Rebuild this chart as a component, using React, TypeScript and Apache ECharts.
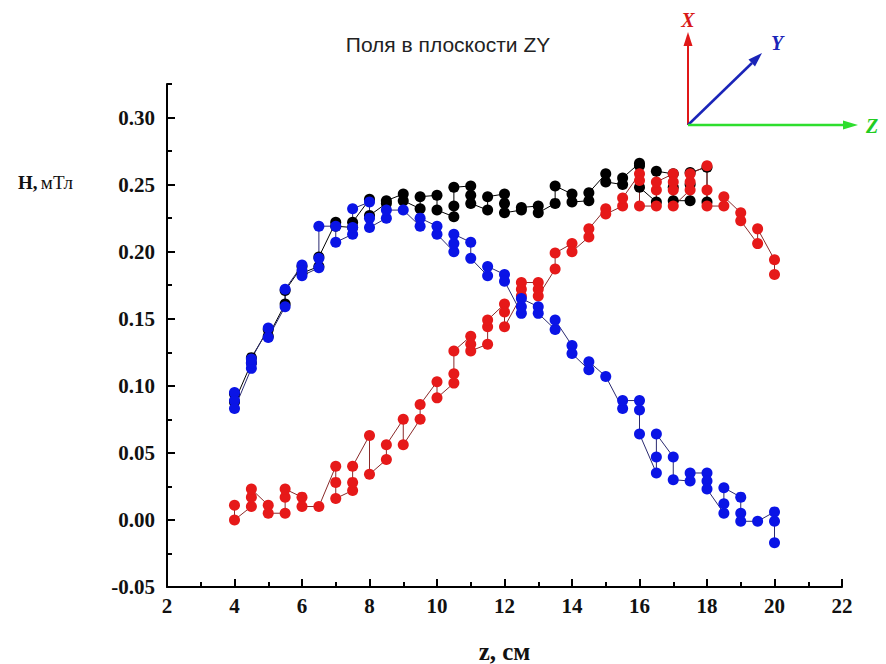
import React, { useEffect, useRef } from "react";
import * as echarts from "echarts";

// Positions along z, cm
const zPositions = [4, 4.5, 5, 5.5, 6, 6.5, 7, 7.5, 8, 8.5, 9, 9.5, 10, 10.5, 11, 11.5, 12, 12.5, 13, 13.5, 14, 14.5, 15, 15.5, 16, 16.5, 17, 17.5, 18, 18.5, 19, 19.5, 20];

// Black series (measurements at each z)
const blackValues = [
  [0.094, 0.088], [0.121, 0.117], [0.142, 0.137], [0.171, 0.161], [0.189, 0.184], [0.196, 0.189],
  [0.222, 0.219], [0.222, 0.218], [0.239, 0.227], [0.238, 0.236], [0.243, 0.238], [0.241, 0.232],
  [0.242, 0.231], [0.248, 0.234, 0.226], [0.249, 0.242, 0.236], [0.241, 0.231], [0.243, 0.236, 0.229],
  [0.233, 0.231], [0.234, 0.229], [0.249, 0.236], [0.243, 0.237], [0.244, 0.238], [0.258, 0.252],
  [0.255, 0.25], [0.266, 0.264, 0.248], [0.26, 0.237], [0.258, 0.248, 0.238], [0.259, 0.25, 0.238],
  [0.263, 0.237],
];

// Red series
const redValues = [
  [0.011, 0.0], [0.023, 0.017, 0.01], [0.011, 0.005], [0.023, 0.017, 0.005], [0.017, 0.01], [0.01],
  [0.04, 0.028, 0.016], [0.04, 0.028, 0.022], [0.063, 0.034], [0.056, 0.045], [0.075, 0.056],
  [0.086, 0.075], [0.103, 0.091], [0.126, 0.109, 0.102], [0.137, 0.131, 0.126], [0.149, 0.144, 0.131],
  [0.161, 0.155, 0.144], [0.177, 0.172, 0.167], [0.177, 0.172, 0.167], [0.199, 0.187], [0.206, 0.2],
  [0.217, 0.211], [0.232, 0.228], [0.24, 0.234], [0.258, 0.253, 0.234], [0.252, 0.246, 0.234],
  [0.258, 0.252, 0.246, 0.234], [0.258, 0.252, 0.246], [0.264, 0.246, 0.234], [0.241, 0.234],
  [0.229, 0.223], [0.217, 0.206], [0.194, 0.183],
];

// Blue series
const blueValues = [
  [0.095, 0.089, 0.083], [0.12, 0.117, 0.113], [0.143, 0.136], [0.172, 0.159], [0.19, 0.186, 0.182],
  [0.219, 0.195, 0.188], [0.219, 0.207], [0.232, 0.218, 0.213], [0.237, 0.225, 0.218], [0.231, 0.225],
  [0.231], [0.225, 0.219], [0.219, 0.213], [0.213, 0.206, 0.2], [0.207, 0.195], [0.189, 0.182],
  [0.183, 0.178], [0.165, 0.159, 0.154], [0.159, 0.154], [0.149, 0.142], [0.13, 0.124], [0.118, 0.112],
  [0.107], [0.089, 0.083], [0.089, 0.082, 0.064], [0.064, 0.047, 0.035], [0.047, 0.03], [0.035, 0.029],
  [0.035, 0.029, 0.023], [0.024, 0.012, 0.005], [0.017, 0.005, -0.001], [-0.001], [0.006, -0.001, -0.017],
];

const yMajorTicks = [-0.05, 0, 0.05, 0.1, 0.15, 0.2, 0.25, 0.3];

function buildPoints(groups: number[][]): number[][] {
  const pts: number[][] = [];
  groups.forEach((vals, i) => {
    const ordered = i % 2 === 0 ? vals.slice() : vals.slice().reverse();
    ordered.forEach((v) => pts.push([zPositions[i], v]));
  });
  return pts;
}

const serif = "'Times New Roman', 'Liberation Serif', serif";
const sans = "Arial, 'Liberation Sans', sans-serif";

export default function App() {
  const ref = useRef<HTMLDivElement>(null);
  useEffect(() => {
    if (!ref.current) return;
    const chart = echarts.init(ref.current, undefined, { renderer: "svg" });
    const mk = (name: string, groups: number[][], color: string, lineColor: string) => ({
      name,
      type: "line",
      xAxisIndex: 0,
      yAxisIndex: 0,
      data: buildPoints(groups),
      symbol: "circle",
      symbolSize: 11,
      itemStyle: { color },
      lineStyle: { color: lineColor, width: 1 },
      showAllSymbol: true,
    });
    chart.setOption({
      animation: false,
      backgroundColor: "#ffffff",
      title: {
        text: "Поля в плоскости ZY",
        left: 443,
        textAlign: "center",
        top: 29,
        textStyle: { fontFamily: sans, fontSize: 21, fontWeight: "normal", color: "#222" },
      },
      grid: { left: 167, right: 44, top: 84, bottom: 77, outerBoundsMode: "none", containLabel: false },
      xAxis: {
        type: "value",
        min: 2,
        max: 22,
        interval: 2,
        name: "z, см",
        nameLocation: "middle",
        nameGap: 52,
        nameTextStyle: { fontFamily: serif, fontWeight: "bold", fontSize: 25, color: "#111" },
        axisLine: { show: true, onZero: false, lineStyle: { color: "#000", width: 2 } },
        axisTick: { show: true, inside: true, length: 8, lineStyle: { color: "#000", width: 2 } },
        minorTick: { show: true, splitNumber: 2, length: 5, lineStyle: { color: "#000", width: 2 } },
        splitLine: { show: false },
        minorSplitLine: { show: false },
        axisLabel: { fontFamily: serif, fontWeight: "bold", fontSize: 21, color: "#111", margin: 8 },
      },
      yAxis: [
        {
          type: "value",
          min: -0.05,
          max: 0.325,
          interval: 0.025,
          axisLine: { show: true, onZero: false, lineStyle: { color: "#000", width: 2 } },
          axisTick: { show: true, inside: true, length: 5, lineStyle: { color: "#000", width: 2 } },
          splitLine: { show: false },
          axisLabel: {
            fontFamily: serif,
            fontWeight: "bold",
            fontSize: 21,
            color: "#111",
            margin: 12,
            formatter: (v: number) => (Math.round(v * 1000) % 50 === 0 ? v.toFixed(2) : ""),
          },
        },
        {
          type: "value",
          position: "left",
          min: -0.05,
          max: 0.325,
          interval: 0.05,
          axisLine: { show: false },
          axisTick: {
            show: true,
            inside: true,
            length: 8,
            customValues: yMajorTicks,
            lineStyle: { color: "#000", width: 2 },
          },
          axisLabel: { show: false },
          splitLine: { show: false },
        },
      ],
      series: [
        mk("black", blackValues, "#000000", "#000000"),
        mk("red", redValues, "#e61919", "#8a2a2a"),
        mk("blue", blueValues, "#0a14e6", "#2a2a70"),
      ],
      graphic: [
        {
          type: "text",
          left: 18,
          top: 173,
          style: {
            text: "{b|H,} {n|мТл}",
            rich: {
              b: { fontFamily: serif, fontWeight: "bold", fontSize: 19, fill: "#111" },
              n: { fontFamily: serif, fontWeight: "normal", fontSize: 19, fill: "#111" },
            },
          },
        },
        // coordinate system inset
        { type: "line", shape: { x1: 688, y1: 125, x2: 688, y2: 44 }, style: { stroke: "#e01818", lineWidth: 2 } },
        { type: "polygon", shape: { points: [[688, 32], [683.5, 46], [692.5, 46]] }, style: { fill: "#e01818" } },
        { type: "line", shape: { x1: 688, y1: 125, x2: 752, y2: 63 }, style: { stroke: "#1a24b8", lineWidth: 2.5 } },
        { type: "polygon", shape: { points: [[762, 53], [755, 66.5], [748.5, 59.5]] }, style: { fill: "#1a24b8" } },
        { type: "line", shape: { x1: 688, y1: 125, x2: 845, y2: 125 }, style: { stroke: "#2ede2e", lineWidth: 2.5 } },
        { type: "polygon", shape: { points: [[858, 125], [843, 120.5], [843, 129.5]] }, style: { fill: "#2ede2e" } },
        {
          type: "text",
          x: 688,
          y: 20,
          style: { text: "X", fill: "#d81818", font: "italic bold 20px 'Times New Roman', 'Liberation Serif', serif", textAlign: "center", textVerticalAlign: "middle" },
        },
        {
          type: "text",
          x: 777,
          y: 43,
          style: { text: "Y", fill: "#1a24b8", font: "italic bold 20px 'Times New Roman', 'Liberation Serif', serif", textAlign: "center", textVerticalAlign: "middle" },
        },
        {
          type: "text",
          x: 872,
          y: 126,
          style: { text: "Z", fill: "#22cc22", font: "italic bold 20px 'Times New Roman', 'Liberation Serif', serif", textAlign: "center", textVerticalAlign: "middle" },
        },
      ],
    });
    return () => chart.dispose();
  }, []);
  return <div ref={ref} style={{ position: "absolute", left: 0, top: 0, width: 886, height: 664 }} />;
}
